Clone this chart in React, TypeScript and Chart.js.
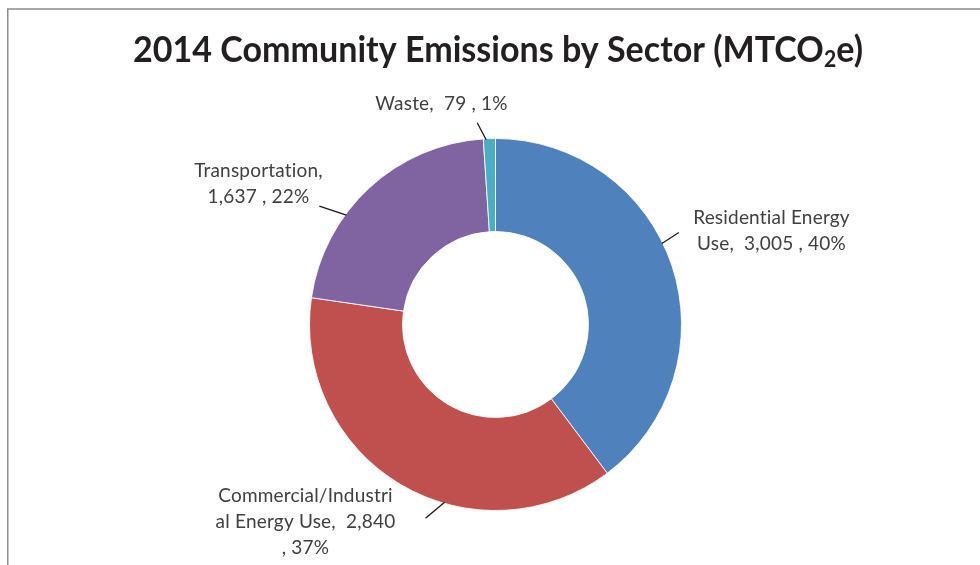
import React, { useEffect, useRef } from "react";
import { Chart, registerables } from "chart.js";

Chart.register(...registerables);

// ---- data ----
const categories = [
  "Residential Energy Use",
  "Commercial/Industrial Energy Use",
  "Transportation",
  "Waste",
];
const emissions = [3005, 2840, 1637, 79];
const percents = [40, 37, 22, 1];
const sliceColors = ["#4F81BD", "#C0504D", "#8064A2", "#4BACC6"];

const titleMain = "2014 Community Emissions by Sector (MTCO";
const titleSub = "2";
const titleEnd = "e)";

const fmt = (n: number) => n.toLocaleString("en-US");
const valueText = (i: number) => `${fmt(emissions[i])} , ${percents[i]}%`;

// wrapped data-label text (as wrapped in the original)
const labelLines: string[][] = [
  ["Residential Energy", `Use,  ${valueText(0)}`],
  ["Commercial/Industri", `al Energy Use,  ${fmt(emissions[1])}`, `, ${percents[1]}%`],
  ["Transportation,", valueText(2)],
  [`Waste,  ${valueText(3)}`],
];

// label layout: leader start angle offset (deg) from slice mid-angle,
// leader vector, and text centre offset from donut centre (px)
const labelLayout = [
  { dAng: -7.5, lx: 17, ly: -11, tx: 276, ty: -107 },
  { dAng: -14.7, lx: -19, ly: 16, tx: -190, ty: 171 },
  { dAng: -11, lx: -27, ly: -9, tx: -237, ty: -154 },
  { dAng: -1, lx: -9, ly: -17, tx: -54, ty: -221 },
];

const LABEL_FONT = '19px Lato, "Open Sans", sans-serif';
const LINE_H = 26;

const framePlugin = {
  id: "frame",
  beforeDraw(chart: any) {
    const ctx = chart.ctx;
    ctx.save();
    ctx.fillStyle = "#ffffff";
    ctx.fillRect(0, 0, chart.width, chart.height);
    ctx.strokeStyle = "#8c8c8c";
    ctx.lineWidth = 1.5;
    ctx.beginPath();
    ctx.moveTo(7.75, chart.height + 2);
    ctx.lineTo(7.75, 9);
    ctx.lineTo(chart.width + 2, 9);
    ctx.stroke();
    ctx.restore();
  },
};

const titlePlugin = {
  id: "subTitle",
  afterDraw(chart: any) {
    const ctx = chart.ctx;
    ctx.save();
    const family = 'Lato, "Open Sans", sans-serif';
    ctx.font = `bold 100px ${family}`;
    const w1 = ctx.measureText(titleMain).width;
    const w3 = ctx.measureText(titleEnd).width;
    ctx.font = `bold 62px ${family}`;
    const w2 = ctx.measureText(titleSub).width;
    const targetW = 730;
    const k = targetW / (w1 + w2 + w3);
    const size = 100 * k;
    const subSize = 62 * k;
    const left = 498 - targetW / 2;
    const baseY = 62;
    ctx.fillStyle = "#231f20";
    ctx.textBaseline = "alphabetic";
    ctx.textAlign = "left";
    ctx.translate(0, baseY);
    ctx.scale(1, 1.08);
    ctx.font = `bold ${size}px ${family}`;
    ctx.fillText(titleMain, left, 0);
    ctx.font = `bold ${subSize}px ${family}`;
    ctx.fillText(titleSub, left + w1 * k, 5);
    ctx.font = `bold ${size}px ${family}`;
    ctx.fillText(titleEnd, left + (w1 + w2) * k, 0);
    ctx.restore();
  },
};

const labelPlugin = {
  id: "donutLabels",
  afterDatasetsDraw(chart: any) {
    const ctx = chart.ctx;
    const meta = chart.getDatasetMeta(0);
    ctx.save();
    meta.data.forEach((arc: any, i: number) => {
      const { x, y, startAngle, endAngle, outerRadius } = arc.getProps(
        ["x", "y", "startAngle", "endAngle", "outerRadius"],
        true
      );
      const lay = labelLayout[i];
      const mid = (startAngle + endAngle) / 2 + (lay.dAng * Math.PI) / 180;
      const px = x + Math.cos(mid) * (outerRadius - 1);
      const py = y + Math.sin(mid) * (outerRadius - 1);
      ctx.strokeStyle = "#1a1a1a";
      ctx.lineWidth = 1.3;
      ctx.beginPath();
      ctx.moveTo(px, py);
      ctx.lineTo(px + lay.lx, py + lay.ly);
      ctx.stroke();

      ctx.font = LABEL_FONT;
      try {
        (ctx as any).letterSpacing = "0.2px";
      } catch (e) {}
      ctx.fillStyle = "#404040";
      ctx.textAlign = "center";
      ctx.textBaseline = "middle";
      labelLines[i].forEach((line, j) => {
        ctx.fillText(line, x + lay.tx, y + lay.ty + j * LINE_H);
      });
    });
    ctx.restore();
  },
};

export default function App() {
  const canvasRef = useRef<HTMLCanvasElement | null>(null);

  useEffect(() => {
    if (!canvasRef.current) return;
    const chart = new Chart(canvasRef.current, {
      type: "doughnut",
      data: {
        labels: categories,
        datasets: [
          {
            data: emissions,
            backgroundColor: sliceColors,
            borderColor: "rgba(255,255,255,0.85)",
            borderWidth: 1,
          },
        ],
      },
      options: {
        responsive: false,
        maintainAspectRatio: false,
        devicePixelRatio: 1,
        animation: false,
        cutout: "50%",
        layout: {
          padding: { top: 138, bottom: 54, left: 309, right: 298 },
        },
        plugins: {
          legend: { display: false },
          title: { display: false },
          tooltip: { enabled: false },
        },
      },
      plugins: [framePlugin, titlePlugin, labelPlugin],
    });
    return () => chart.destroy();
  }, []);

  return (
    <div style={{ position: "absolute", left: 0, top: 0, width: 980, height: 565 }}>
      <canvas ref={canvasRef} width={980} height={565} />
    </div>
  );
}
